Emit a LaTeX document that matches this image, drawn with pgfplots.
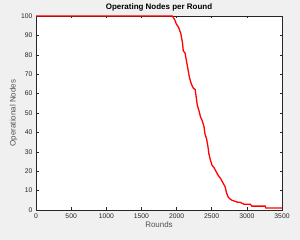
\documentclass[border=0pt]{standalone}
\usepackage{pgfplots}
\pgfplotsset{compat=1.18}
\usepackage{fontspec}
\setmainfont{Liberation Sans}
\definecolor{figbg}{RGB}{240,240,240}
\definecolor{axcol}{RGB}{38,38,38}
\begin{document}
\begin{tikzpicture}
\path[use as bounding box, fill=figbg] (0,0) rectangle (300bp,240bp);
\begin{axis}[
  at={(36bp,30bp)}, anchor=south west,
  scale only axis, width=246bp, height=194bp,
  xmin=0, xmax=3500, ymin=0, ymax=100,
  xtick={0,500,...,3500}, ytick={0,10,...,100},
  tick align=inside, major tick length=2.5bp,
  axis line style={axcol, line width=0.5bp},
  tick style={axcol, line width=0.5bp},
  axis background/.style={fill=white},
  tick label style={font=\fontsize{6.8}{7}\selectfont, text=axcol},
  /pgf/number format/assume math mode=true,
  /pgf/number format/1000 sep={},
  xlabel={Rounds}, ylabel={Operational Nodes},
  label style={font=\fontsize{8}{9}\selectfont, text=axcol!80},
  xlabel style={yshift=3bp},
  ylabel style={yshift=-3bp},
  title={\textbf{Operating Nodes per Round}},
  title style={font=\fontsize{8}{9}\selectfont, yshift=-5bp},
]
\addplot[red, line width=1.3bp] coordinates {
(0,100) (1940,100) (1975,98) (1995,96) (2030,94) (2060,91) (2085,86) (2095,82)
(2120,81) (2140,77) (2165,72) (2185,68) (2210,65) (2235,63) (2265,62) (2280,58)
(2295,54) (2320,51) (2340,48) (2365,46) (2390,43) (2405,39) (2425,37) (2445,33)
(2460,29) (2480,26) (2505,23) (2530,22) (2560,20) (2590,18) (2630,16) (2660,14)
(2690,12) (2710,9) (2730,7) (2750,6) (2790,5) (2870,4) (2900,4) (2960,3) (3050,3) (3070,2)
(3260,2) (3270,1) (3500,1)
};
\end{axis}
\end{tikzpicture}
\end{document}
